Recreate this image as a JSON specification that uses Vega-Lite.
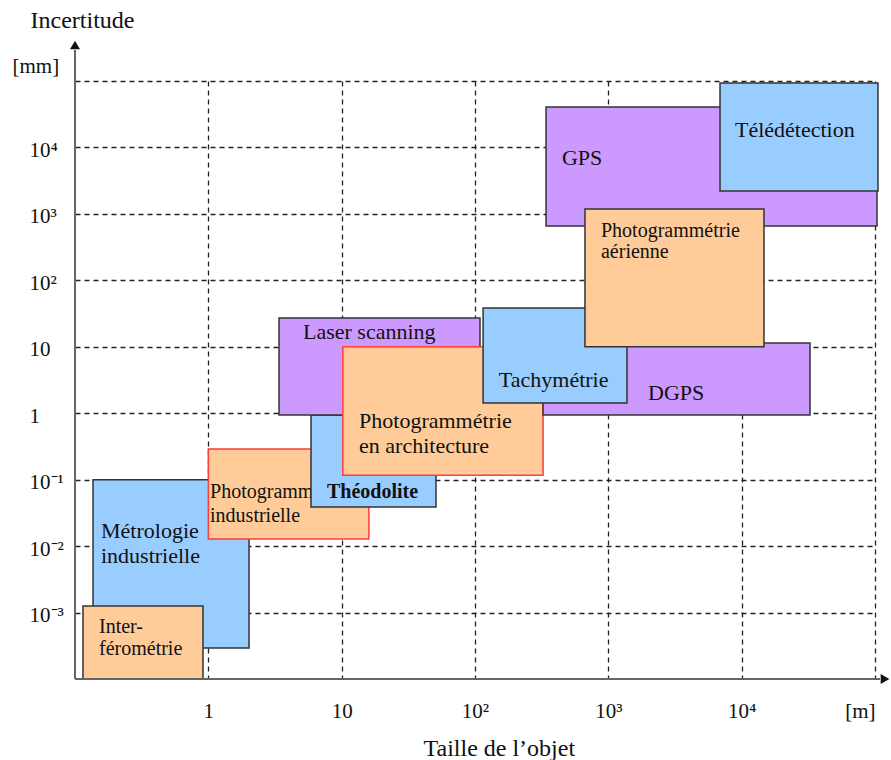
{
  "$schema": "https://vega.github.io/schema/vega-lite/v6.json",
  "width": 800,
  "height": 598,
  "autosize": {"type": "none"},
  "padding": {"left": 75, "top": 81, "right": 16, "bottom": 81},
  "background": "white",
  "config": {
    "view": {"stroke": null},
    "text": {"font": "Liberation Serif"},
    "axis": {"labelFont": "Liberation Serif", "titleFont": "Liberation Serif"}
  },
  "datasets": {
    "boxes": [
      {"name": "Métrologie industrielle", "x": 0.1365, "x2": 2.02, "y": 0.1, "y2": 0.000292},
      {"name": "Interférométrie", "x": 0.1148, "x2": 0.912, "y": 0.00126, "y2": 0.0001},
      {"name": "Photogrammétrie industrielle", "x": 1.0, "x2": 16.0, "y": 0.289, "y2": 0.0128},
      {"name": "Théodolite", "x": 5.89, "x2": 51.0, "y": 0.94, "y2": 0.0387},
      {"name": "Laser scanning", "x": 3.39, "x2": 109, "y": 27.1, "y2": 0.94},
      {"name": "Photogrammétrie en architecture", "x": 10.2, "x2": 324, "y": 10, "y2": 0.117},
      {"name": "DGPS", "x": 324, "x2": 32550, "y": 11.4, "y2": 0.94},
      {"name": "Tachymétrie", "x": 115, "x2": 1380, "y": 38.3, "y2": 1.43},
      {"name": "GPS", "x": 341, "x2": 103500, "y": 40600, "y2": 658},
      {"name": "Télédétection", "x": 6880, "x2": 105300, "y": 93300, "y2": 2210},
      {"name": "Photogrammétrie aérienne", "x": 668, "x2": 14700, "y": 1185, "y2": 10}
    ],
    "labels": [
      {"name": "Métrologie industrielle", "text": "Métrologie", "x": 0.1567, "y": 0.01324},
      {"name": "Métrologie industrielle", "text": "industrielle", "x": 0.1567, "y": 0.00556},
      {"name": "Interférométrie", "text": "Inter-", "x": 0.1514, "y": 0.000492},
      {"name": "Interférométrie", "text": "férométrie", "x": 0.1514, "y": 0.00023},
      {"name": "Photogrammétrie industrielle", "text": "Photogrammétrie", "x": 1.03, "y": 0.053},
      {"name": "Photogrammétrie industrielle", "text": "industrielle", "x": 1.03, "y": 0.023},
      {"name": "Télédétection", "text": "Télédétection", "x": 8913, "y": 14350},
      {"name": "GPS", "text": "GPS", "x": 449, "y": 5445},
      {"name": "Photogrammétrie aérienne", "text": "Photogrammétrie", "x": 881, "y": 449},
      {"name": "Photogrammétrie aérienne", "text": "aérienne", "x": 881, "y": 217},
      {"name": "Laser scanning", "text": "Laser scanning", "x": 5.13, "y": 13.1},
      {"name": "Tachymétrie", "text": "Tachymétrie", "x": 151, "y": 2.48},
      {"name": "DGPS", "text": "DGPS", "x": 1984, "y": 1.58},
      {"name": "Photogrammétrie en architecture", "text": "Photogrammétrie", "x": 13.5, "y": 0.598},
      {"name": "Photogrammétrie en architecture", "text": "en architecture", "x": 13.5, "y": 0.252},
      {"name": "Théodolite", "text": "Théodolite", "x": 7.76, "y": 0.053}
    ],
    "axes": [
      {"x": 0.1, "x2": 0.1, "y": 0.0001, "y2": 293000},
      {"x": 0.1, "x2": 109000, "y": 0.0001, "y2": 0.0001}
    ],
    "arrowUp": [{"x": 0.1, "y": 348000}],
    "arrowRight": [{"x": 118900, "y": 0.0001}]
  },
  "encoding": {
    "x": {
      "field": "x", "type": "quantitative",
      "scale": {"type": "log", "domain": [0.1, 100000], "nice": false, "zero": false},
      "axis": {
        "title": "Taille de l’objet",
        "values": [1, 10, 100, 1000, 10000, 100000],
        "labelExpr": "datum.value > 50000 ? '[m]' : datum.value > 5000 ? '10⁴' : datum.value > 500 ? '10³' : datum.value > 50 ? '10²' : datum.value > 5 ? '10' : '1'",
        "grid": true, "gridDash": [5, 4], "gridColor": "#222", "gridWidth": 1.3,
        "domain": false, "ticks": false, "tickSize": 0,
        "labelFontSize": 21, "labelColor": "#111",
        "labelBaseline": "alphabetic", "labelPadding": 38,
        "labelAlign": {"condition": {"test": "datum.value > 50000", "value": "right"}, "value": "center"},
        "labelFlush": false, "labelOverlap": false, "labelBound": false,
        "titleFontSize": 24, "titleFontWeight": "normal", "titleColor": "#111",
        "titleAlign": "left", "titleBaseline": "alphabetic", "titleX": 348, "titleY": 76
      }
    },
    "y": {
      "field": "y", "type": "quantitative",
      "scale": {"type": "log", "domain": [0.0001, 100000], "nice": false, "zero": false},
      "axis": {
        "title": "Incertitude",
        "values": [0.001, 0.01, 0.1, 1, 10, 100, 1000, 10000, 100000],
        "labelExpr": "datum.value > 50000 ? '[mm]' : datum.value > 5000 ? '10⁴' : datum.value > 500 ? '10³' : datum.value > 50 ? '10²' : datum.value > 5 ? '10' : datum.value > 0.5 ? '1' : datum.value > 0.05 ? '10⁻¹' : datum.value > 0.005 ? '10⁻²' : '10⁻³'",
        "grid": true, "gridDash": [5, 4], "gridColor": "#222", "gridWidth": 1.3,
        "domain": false, "ticks": false, "tickSize": 0,
        "labelFontSize": 21, "labelColor": "#111",
        "labelAlign": "left", "labelBaseline": "alphabetic",
        "labelPadding": {"condition": {"test": "datum.value > 50000", "value": 63}, "value": 46},
        "labelOffset": {"condition": {"test": "datum.value > 50000", "value": -9}, "value": 9},
        "labelFlush": false, "labelOverlap": false, "labelBound": false,
        "titleFontSize": 24, "titleFontWeight": "normal", "titleColor": "#111",
        "titleAngle": 0, "titleAlign": "left", "titleBaseline": "alphabetic", "titleX": -45, "titleY": -54
      }
    }
  },
  "layer": [
    {
      "data": {"name": "boxes"},
      "transform": [{"filter": "indexof(['Métrologie industrielle','Interférométrie','Photogrammétrie industrielle'], datum.name) >= 0"}],
      "mark": {"type": "rect", "strokeWidth": 1.5},
      "encoding": {
        "x2": {"field": "x2"},
        "y2": {"field": "y2"},
        "fill": {"field": "name", "type": "nominal", "legend": null,
          "scale": {"domain": ["Métrologie industrielle", "Interférométrie", "Photogrammétrie industrielle", "Théodolite", "Laser scanning", "Photogrammétrie en architecture", "DGPS", "Tachymétrie", "GPS", "Télédétection", "Photogrammétrie aérienne"],
                    "range": ["#99CCFF", "#FFCC99", "#FFCC99", "#99CCFF", "#CC99FF", "#FFCC99", "#CC99FF", "#99CCFF", "#CC99FF", "#99CCFF", "#FFCC99"]}},
        "stroke": {"condition": {"test": "indexof(['Photogrammétrie industrielle','Photogrammétrie en architecture'], datum.name) >= 0", "value": "#FF3B3B"}, "value": "#333333"}
      }
    },
    {
      "data": {"name": "labels"},
      "transform": [{"filter": "indexof(['Métrologie industrielle','Interférométrie','Photogrammétrie industrielle'], datum.name) >= 0"}],
      "mark": {"type": "text", "align": "left", "baseline": "alphabetic", "color": "#111"},
      "encoding": {
        "text": {"field": "text"},
        "size": {"condition": {"test": "datum.name == 'Métrologie industrielle'", "value": 22}, "value": 20}
      }
    },
    {
      "data": {"name": "boxes"},
      "transform": [{"filter": "indexof(['Métrologie industrielle','Interférométrie','Photogrammétrie industrielle'], datum.name) < 0"}],
      "mark": {"type": "rect", "strokeWidth": 1.5},
      "encoding": {
        "x2": {"field": "x2"},
        "y2": {"field": "y2"},
        "fill": {"field": "name", "type": "nominal", "legend": null},
        "stroke": {"condition": {"test": "indexof(['Photogrammétrie industrielle','Photogrammétrie en architecture'], datum.name) >= 0", "value": "#FF3B3B"}, "value": "#333333"}
      }
    },
    {
      "data": {"name": "labels"},
      "transform": [{"filter": "indexof(['Métrologie industrielle','Interférométrie','Photogrammétrie industrielle','Théodolite'], datum.name) < 0"}],
      "mark": {"type": "text", "align": "left", "baseline": "alphabetic", "color": "#111"},
      "encoding": {
        "text": {"field": "text"},
        "size": {"condition": {"test": "datum.name == 'Photogrammétrie aérienne'", "value": 20}, "value": 22}
      }
    },
    {
      "data": {"name": "labels"},
      "transform": [{"filter": "datum.name == 'Théodolite'"}],
      "mark": {"type": "text", "align": "left", "baseline": "alphabetic", "color": "#111", "fontWeight": "bold", "fontSize": 20},
      "encoding": {"text": {"field": "text"}}
    },
    {
      "data": {"name": "axes"},
      "mark": {"type": "rule", "color": "#666", "strokeWidth": 2},
      "encoding": {"x2": {"field": "x2"}, "y2": {"field": "y2"}}
    },
    {
      "data": {"name": "arrowUp"},
      "mark": {"type": "point", "shape": "triangle-up", "filled": true, "size": 100, "color": "#111", "opacity": 1}
    },
    {
      "data": {"name": "arrowRight"},
      "mark": {"type": "point", "shape": "triangle-right", "filled": true, "size": 100, "color": "#111", "opacity": 1}
    }
  ]
}
